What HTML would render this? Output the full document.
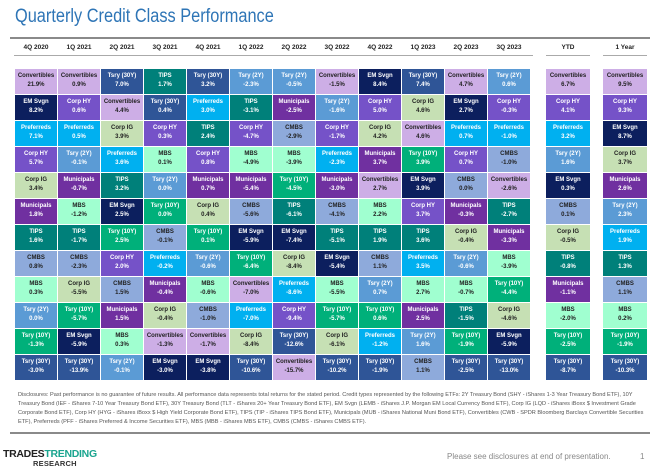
<!DOCTYPE html>
<html><head><meta charset="utf-8"><style>
*{margin:0;padding:0;box-sizing:border-box}
body{width:660px;height:474px;background:#fff;position:relative;overflow:hidden;font-family:"Liberation Sans",sans-serif}
.title{position:absolute;left:15px;top:6px;font-size:19px;color:#2e75b6;transform:scaleX(.86);transform-origin:left top;white-space:nowrap}
.rule{position:absolute;background:#8a8a8a}
.hd{position:absolute;top:44px;font-size:6.5px;font-weight:bold;color:#222;text-align:center}
.grid{position:absolute;top:69px;display:grid;grid-auto-flow:column;grid-template-rows:repeat(12,25px);gap:1px}
.c{font-size:6px;font-weight:bold;text-align:center;line-height:9px;padding-top:3px;color:#fff;white-space:nowrap;overflow:hidden}
.c b{display:block;font-weight:bold}
.cv{background:#cdaee6;color:#222}.em{background:#0c1f5e}.pf{background:#00b0f0}.hy{background:#7552c8}
.ig{background:#c6e0b4;color:#222}.mu{background:#7030a0}.ti{background:#00807a}.cm{background:#8eaadb;color:#222}
.mb{background:#a0ffd0;color:#222}.t2{background:#5b9bd5}.t10{background:#00b07a}.t30{background:#2f5597}
.disc{position:absolute;left:18px;top:391px;width:630px;font-size:5.6px;line-height:9px;color:#555}
.foot{position:absolute;left:447px;top:452px;font-size:8px;color:#888}
</style></head><body>
<div class="title">Quarterly Credit Class Performance</div>
<div class="rule" style="left:10px;top:37px;width:640px;height:1.5px"></div>
<div class="hd" style="left:15px;width:42px">4Q 2020</div>
<div class="hd" style="left:58px;width:42px">1Q 2021</div>
<div class="hd" style="left:101px;width:42px">2Q 2021</div>
<div class="hd" style="left:144px;width:42px">3Q 2021</div>
<div class="hd" style="left:187px;width:42px">4Q 2021</div>
<div class="hd" style="left:230px;width:42px">1Q 2022</div>
<div class="hd" style="left:273px;width:42px">2Q 2022</div>
<div class="hd" style="left:316px;width:42px">3Q 2022</div>
<div class="hd" style="left:359px;width:42px">4Q 2022</div>
<div class="hd" style="left:402px;width:42px">1Q 2023</div>
<div class="hd" style="left:445px;width:42px">2Q 2023</div>
<div class="hd" style="left:488px;width:42px">3Q 2023</div>
<div class="hd" style="left:546px;width:44px">YTD</div>
<div class="hd" style="left:603px;width:44px">1 Year</div>
<div class="rule" style="left:14px;top:55px;width:519px;height:1px;background:#aaa"></div>
<div class="rule" style="left:546px;top:55px;width:44px;height:1px;background:#aaa"></div>
<div class="rule" style="left:603px;top:55px;width:44px;height:1px;background:#aaa"></div>

<div class="grid" style="left:15px;grid-template-columns:repeat(12,42px)">
<div class="c cv"><b>Convertibles</b>21.9%</div><div class="c em"><b>EM Svgn</b>8.2%</div><div class="c pf"><b>Preferreds</b>7.1%</div><div class="c hy"><b>Corp HY</b>5.7%</div><div class="c ig"><b>Corp IG</b>3.4%</div><div class="c mu"><b>Municipals</b>1.8%</div><div class="c ti"><b>TIPS</b>1.6%</div><div class="c cm"><b>CMBS</b>0.8%</div><div class="c mb"><b>MBS</b>0.3%</div><div class="c t2"><b>Tsry (2Y)</b>0.0%</div><div class="c t10"><b>Tsry (10Y)</b>-1.3%</div><div class="c t30"><b>Tsry (30Y)</b>-3.0%</div>
<div class="c cv"><b>Convertibles</b>0.9%</div><div class="c hy"><b>Corp HY</b>0.6%</div><div class="c pf"><b>Preferreds</b>0.5%</div><div class="c t2"><b>Tsry (2Y)</b>-0.1%</div><div class="c mu"><b>Municipals</b>-0.7%</div><div class="c mb"><b>MBS</b>-1.2%</div><div class="c ti"><b>TIPS</b>-1.7%</div><div class="c cm"><b>CMBS</b>-2.3%</div><div class="c ig"><b>Corp IG</b>-5.5%</div><div class="c t10"><b>Tsry (10Y)</b>-5.7%</div><div class="c em"><b>EM Svgn</b>-5.9%</div><div class="c t30"><b>Tsry (30Y)</b>-13.9%</div>
<div class="c t30"><b>Tsry (30Y)</b>7.0%</div><div class="c cv"><b>Convertibles</b>4.4%</div><div class="c ig"><b>Corp IG</b>3.9%</div><div class="c pf"><b>Preferreds</b>3.6%</div><div class="c ti"><b>TIPS</b>3.2%</div><div class="c em"><b>EM Svgn</b>2.5%</div><div class="c t10"><b>Tsry (10Y)</b>2.5%</div><div class="c hy"><b>Corp HY</b>2.0%</div><div class="c cm"><b>CMBS</b>1.5%</div><div class="c mu"><b>Municipals</b>1.5%</div><div class="c mb"><b>MBS</b>0.3%</div><div class="c t2"><b>Tsry (2Y)</b>-0.1%</div>
<div class="c ti"><b>TIPS</b>1.7%</div><div class="c t30"><b>Tsry (30Y)</b>0.4%</div><div class="c hy"><b>Corp HY</b>0.3%</div><div class="c mb"><b>MBS</b>0.1%</div><div class="c t2"><b>Tsry (2Y)</b>0.0%</div><div class="c t10"><b>Tsry (10Y)</b>0.0%</div><div class="c cm"><b>CMBS</b>-0.1%</div><div class="c pf"><b>Preferreds</b>-0.2%</div><div class="c mu"><b>Municipals</b>-0.4%</div><div class="c ig"><b>Corp IG</b>-0.4%</div><div class="c cv"><b>Convertibles</b>-1.3%</div><div class="c em"><b>EM Svgn</b>-3.0%</div>
<div class="c t30"><b>Tsry (30Y)</b>3.2%</div><div class="c pf"><b>Preferreds</b>3.0%</div><div class="c ti"><b>TIPS</b>2.4%</div><div class="c hy"><b>Corp HY</b>0.8%</div><div class="c mu"><b>Municipals</b>0.7%</div><div class="c ig"><b>Corp IG</b>0.4%</div><div class="c t10"><b>Tsry (10Y)</b>0.1%</div><div class="c t2"><b>Tsry (2Y)</b>-0.6%</div><div class="c mb"><b>MBS</b>-0.6%</div><div class="c cm"><b>CMBS</b>-1.0%</div><div class="c cv"><b>Convertibles</b>-1.7%</div><div class="c em"><b>EM Svgn</b>-3.8%</div>
<div class="c t2"><b>Tsry (2Y)</b>-2.3%</div><div class="c ti"><b>TIPS</b>-3.1%</div><div class="c hy"><b>Corp HY</b>-4.7%</div><div class="c mb"><b>MBS</b>-4.9%</div><div class="c mu"><b>Municipals</b>-5.4%</div><div class="c cm"><b>CMBS</b>-5.6%</div><div class="c em"><b>EM Svgn</b>-5.9%</div><div class="c t10"><b>Tsry (10Y)</b>-6.4%</div><div class="c cv"><b>Convertibles</b>-7.0%</div><div class="c pf"><b>Preferreds</b>-7.0%</div><div class="c ig"><b>Corp IG</b>-8.4%</div><div class="c t30"><b>Tsry (30Y)</b>-10.6%</div>
<div class="c t2"><b>Tsry (2Y)</b>-0.5%</div><div class="c mu"><b>Municipals</b>-2.5%</div><div class="c cm"><b>CMBS</b>-2.9%</div><div class="c mb"><b>MBS</b>-3.9%</div><div class="c t10"><b>Tsry (10Y)</b>-4.5%</div><div class="c ti"><b>TIPS</b>-6.1%</div><div class="c em"><b>EM Svgn</b>-7.4%</div><div class="c ig"><b>Corp IG</b>-8.4%</div><div class="c pf"><b>Preferreds</b>-8.6%</div><div class="c hy"><b>Corp HY</b>-9.4%</div><div class="c t30"><b>Tsry (30Y)</b>-12.6%</div><div class="c cv"><b>Convertibles</b>-15.7%</div>
<div class="c cv"><b>Convertibles</b>-1.5%</div><div class="c t2"><b>Tsry (2Y)</b>-1.6%</div><div class="c hy"><b>Corp HY</b>-1.7%</div><div class="c pf"><b>Preferreds</b>-2.3%</div><div class="c mu"><b>Municipals</b>-3.0%</div><div class="c cm"><b>CMBS</b>-4.1%</div><div class="c ti"><b>TIPS</b>-5.1%</div><div class="c em"><b>EM Svgn</b>-5.4%</div><div class="c mb"><b>MBS</b>-5.5%</div><div class="c t10"><b>Tsry (10Y)</b>-5.7%</div><div class="c ig"><b>Corp IG</b>-6.1%</div><div class="c t30"><b>Tsry (30Y)</b>-10.2%</div>
<div class="c em"><b>EM Svgn</b>8.4%</div><div class="c hy"><b>Corp HY</b>5.0%</div><div class="c ig"><b>Corp IG</b>4.2%</div><div class="c mu"><b>Municipals</b>3.7%</div><div class="c cv"><b>Convertibles</b>2.7%</div><div class="c mb"><b>MBS</b>2.2%</div><div class="c ti"><b>TIPS</b>1.9%</div><div class="c cm"><b>CMBS</b>1.1%</div><div class="c t2"><b>Tsry (2Y)</b>0.7%</div><div class="c t10"><b>Tsry (10Y)</b>0.6%</div><div class="c pf"><b>Preferreds</b>-1.2%</div><div class="c t30"><b>Tsry (30Y)</b>-1.9%</div>
<div class="c t30"><b>Tsry (30Y)</b>7.4%</div><div class="c ig"><b>Corp IG</b>4.6%</div><div class="c cv"><b>Convertibles</b>4.6%</div><div class="c t10"><b>Tsry (10Y)</b>3.9%</div><div class="c em"><b>EM Svgn</b>3.9%</div><div class="c hy"><b>Corp HY</b>3.7%</div><div class="c ti"><b>TIPS</b>3.6%</div><div class="c pf"><b>Preferreds</b>3.5%</div><div class="c mb"><b>MBS</b>2.7%</div><div class="c mu"><b>Municipals</b>2.5%</div><div class="c t2"><b>Tsry (2Y)</b>1.6%</div><div class="c cm"><b>CMBS</b>1.1%</div>
<div class="c cv"><b>Convertibles</b>4.7%</div><div class="c em"><b>EM Svgn</b>2.7%</div><div class="c pf"><b>Preferreds</b>0.7%</div><div class="c hy"><b>Corp HY</b>0.7%</div><div class="c cm"><b>CMBS</b>0.0%</div><div class="c mu"><b>Municipals</b>-0.3%</div><div class="c ig"><b>Corp IG</b>-0.4%</div><div class="c t2"><b>Tsry (2Y)</b>-0.6%</div><div class="c mb"><b>MBS</b>-0.7%</div><div class="c ti"><b>TIPS</b>-1.5%</div><div class="c t10"><b>Tsry (10Y)</b>-1.9%</div><div class="c t30"><b>Tsry (30Y)</b>-2.5%</div>
<div class="c t2"><b>Tsry (2Y)</b>0.6%</div><div class="c hy"><b>Corp HY</b>-0.3%</div><div class="c pf"><b>Preferreds</b>-1.0%</div><div class="c cm"><b>CMBS</b>-1.0%</div><div class="c cv"><b>Convertibles</b>-2.6%</div><div class="c ti"><b>TIPS</b>-2.7%</div><div class="c mu"><b>Municipals</b>-3.3%</div><div class="c mb"><b>MBS</b>-3.9%</div><div class="c t10"><b>Tsry (10Y)</b>-4.4%</div><div class="c ig"><b>Corp IG</b>-4.6%</div><div class="c em"><b>EM Svgn</b>-5.9%</div><div class="c t30"><b>Tsry (30Y)</b>-13.0%</div>
</div>

<div class="grid" style="left:546px;grid-template-columns:44px">
<div class="c cv"><b>Convertibles</b>6.7%</div><div class="c hy"><b>Corp HY</b>4.1%</div><div class="c pf"><b>Preferreds</b>3.2%</div><div class="c t2"><b>Tsry (2Y)</b>1.6%</div><div class="c em"><b>EM Svgn</b>0.3%</div><div class="c cm"><b>CMBS</b>0.1%</div><div class="c ig"><b>Corp IG</b>-0.5%</div><div class="c ti"><b>TIPS</b>-0.8%</div><div class="c mu"><b>Municipals</b>-1.1%</div><div class="c mb"><b>MBS</b>-2.0%</div><div class="c t10"><b>Tsry (10Y)</b>-2.5%</div><div class="c t30"><b>Tsry (30Y)</b>-8.7%</div>
</div>
<div class="grid" style="left:603px;grid-template-columns:44px">
<div class="c cv"><b>Convertibles</b>9.5%</div><div class="c hy"><b>Corp HY</b>9.3%</div><div class="c em"><b>EM Svgn</b>8.7%</div><div class="c ig"><b>Corp IG</b>3.7%</div><div class="c mu"><b>Municipals</b>2.6%</div><div class="c t2"><b>Tsry (2Y)</b>2.3%</div><div class="c pf"><b>Preferreds</b>1.9%</div><div class="c ti"><b>TIPS</b>1.3%</div><div class="c cm"><b>CMBS</b>1.1%</div><div class="c mb"><b>MBS</b>0.2%</div><div class="c t10"><b>Tsry (10Y)</b>-1.9%</div><div class="c t30"><b>Tsry (30Y)</b>-10.3%</div>
</div>

<div class="disc">Disclosures: Past performance is no guarantee of future results. All performance data represents total returns for the stated period. Credit types represented by the following ETFs: 2Y Treasury Bond (SHY - iShares 1-3 Year Treasury Bond ETF), 10Y Treasury Bond (IEF - iShares 7-10 Year Treasury Bond ETF), 30Y Treasury Bond (TLT - iShares 20+ Year Treasury Bond ETF), EM Svgn (LEMB - iShares J.P. Morgan EM Local Currency Bond ETF), Corp IG (LQD - iShares iBoxx $ Investment Grade Corporate Bond ETF), Corp HY (HYG - iShares iBoxx $ High Yield Corporate Bond ETF), TIPS (TIP - iShares TIPS Bond ETF), Municipals (MUB - iShares National Muni Bond ETF), Convertibles (CWB - SPDR Bloomberg Barclays Convertible Securities ETF), Preferreds (PFF - iShares Preferred &amp; Income Securities ETF), MBS (MBB - iShares MBS ETF), CMBS (CMBS - iShares CMBS ETF).</div>
<div class="rule" style="left:10px;top:432px;width:640px;height:1.5px"></div>
<div style="position:absolute;left:3px;top:448px;font-size:10.5px;font-weight:bold;letter-spacing:-0.3px;white-space:nowrap"><span style="color:#222">TRADES</span><span style="color:#1aa58f">TRENDING</span></div>
<div style="position:absolute;left:33px;top:459px;font-size:7.5px;font-weight:bold;color:#333;letter-spacing:0.2px">RESEARCH</div>
<div class="foot">Please see disclosures at end of presentation.</div>
<div class="foot" style="left:640px">1</div>
</body></html>
